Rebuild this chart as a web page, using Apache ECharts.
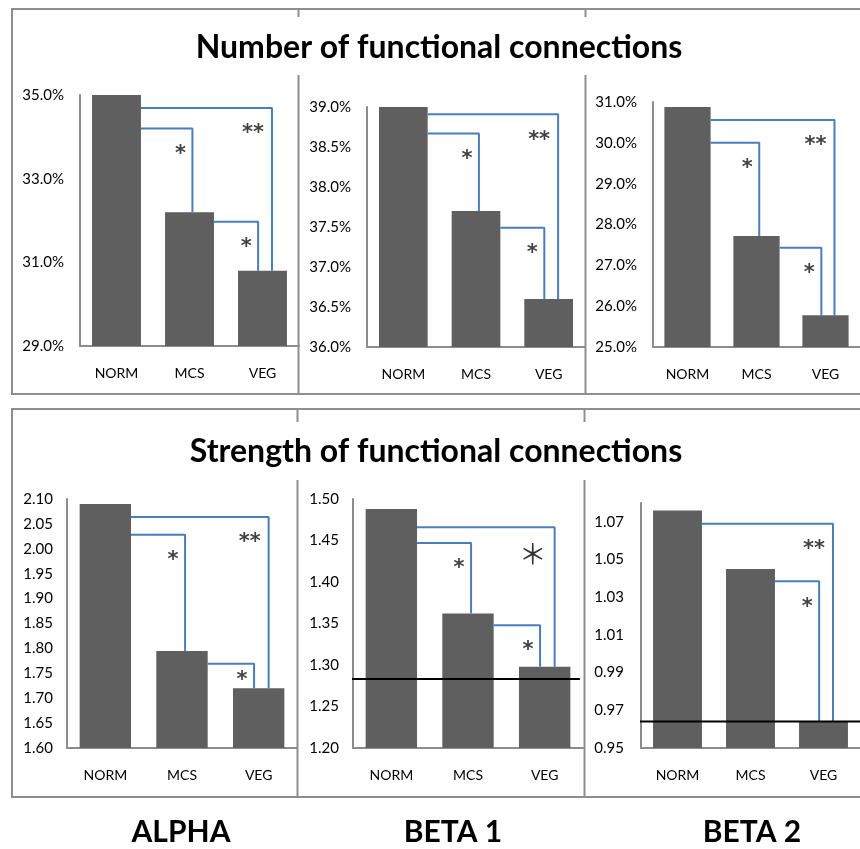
<!DOCTYPE html>
<html><head><meta charset="utf-8">
<script src="https://cdn.jsdelivr.net/npm/echarts@6/dist/echarts.min.js"></script>
<style>html,body{margin:0;padding:0;background:#fff}#c{width:860px;height:849px}</style>
</head><body><div id="c"></div>
<script>
// ---------------- data ----------------
const categories = ['NORM', 'MCS', 'VEG'];
const bandNames = ['ALPHA', 'BETA 1', 'BETA 2'];
const rowTitles = ['Number of functional connections', 'Strength of functional connections'];

// Number of functional connections (%)
const numberAlpha = [35.0, 32.2, 30.8];
const numberBeta1 = [39.02, 37.7, 36.6];
const numberBeta2 = [30.88, 27.72, 25.78];
// Strength of functional connections
const strengthAlpha = [2.09, 1.795, 1.72];
const strengthBeta1 = [1.488, 1.362, 1.298];
const strengthBeta2 = [1.076, 1.045, 0.964];

// axis ranges and tick labels
const numberAlphaRange = [29, 35];
const numberAlphaTicks = [29, 31, 33, 35];
const numberBeta1Range = [36, 39];
const numberBeta1Ticks = [36.0, 36.5, 37.0, 37.5, 38.0, 38.5, 39.0];
const numberBeta2Range = [25, 31];
const numberBeta2Ticks = [25, 26, 27, 28, 29, 30, 31];
const strengthAlphaRange = [1.60, 2.10];
const strengthAlphaTicks = [1.60, 1.65, 1.70, 1.75, 1.80, 1.85, 1.90, 1.95, 2.00, 2.05, 2.10];
const strengthBeta1Range = [1.20, 1.50];
const strengthBeta1Ticks = [1.20, 1.25, 1.30, 1.35, 1.40, 1.45, 1.50];
const strengthBeta2Range = [0.95, 1.08];
const strengthBeta2Ticks = [0.95, 0.97, 0.99, 1.01, 1.03, 1.05, 1.07];

// significance brackets: [from category, to category, bracket level, mark]
const numberAlphaBrackets = [[0, 2, 34.69, '**'], [0, 1, 34.2, '*'], [1, 2, 31.97, '*']];
const numberBeta1Brackets = [[0, 2, 38.91, '**'], [0, 1, 38.67, '*'], [1, 2, 37.49, '*']];
const numberBeta2Brackets = [[0, 2, 30.56, '**'], [0, 1, 30.0, '*'], [1, 2, 27.43, '*']];
const strengthAlphaBrackets = [[0, 2, 2.064, '**'], [0, 1, 2.028, '*'], [1, 2, 1.769, '*']];
const strengthBeta1Brackets = [[0, 2, 1.466, '\uFF0A'], [0, 1, 1.447, '*'], [1, 2, 1.348, '*']];
const strengthBeta2Brackets = [[0, 2, 1.069, '**'], [1, 2, 1.0385, '*']];

// reference lines (black horizontal)
const strengthBeta1Ref = 1.283;
const strengthBeta2Ref = 0.964;

// ---------------- layout & style ----------------
const W = 860, H = 849;
const FONT = 'Lato';
const BAR = '#5f5f5f', BLUE = '#4a7ebb', AXIS = '#8c8c8c', FRAME = '#8e8e8e';

const pct = v => v.toFixed(1) + '%';
const dec = v => v.toFixed(2);

const panels = [
  { values: numberAlpha, range: numberAlphaRange, ticks: numberAlphaTicks, step: 1, fmt: pct, brackets: numberAlphaBrackets, box: [80, 299, 95, 346], lm: 16 },
  { values: numberBeta1, range: numberBeta1Range, ticks: numberBeta1Ticks, step: 0.5, fmt: pct, brackets: numberBeta1Brackets, box: [367, 585, 107, 347], lm: 16 },
  { values: numberBeta2, range: numberBeta2Range, ticks: numberBeta2Ticks, step: 1, fmt: pct, brackets: numberBeta2Brackets, box: [653, 872, 102, 347], lm: 16 },
  { values: strengthAlpha, range: strengthAlphaRange, ticks: strengthAlphaTicks, step: 0.05, fmt: dec, brackets: strengthAlphaBrackets, box: [67, 297, 499, 748], lm: 14 },
  { values: strengthBeta1, range: strengthBeta1Range, ticks: strengthBeta1Ticks, step: 0.05, fmt: dec, brackets: strengthBeta1Brackets, box: [353, 583, 499, 748], lm: 14, ref: strengthBeta1Ref, refSpan: [-0.565, 2.46] },
  { values: strengthBeta2, range: strengthBeta2Range, ticks: strengthBeta2Ticks, step: 0.01, fmt: dec, brackets: strengthBeta2Brackets, box: [641, 869, 503, 748], lm: 17, ref: strengthBeta2Ref, refSpan: [-0.605, 2.7] }
];

const grid = [], xAxis = [], yAxis = [], series = [];
const HALF_BAR = 0.335;

panels.forEach((p, i) => {
  const [l, r, t, b] = p.box;
  grid.push({ left: l, right: W - r, top: t, bottom: H - b, containLabel: false });
  const pxPerUnit = (b - t) / (p.range[1] - p.range[0]);
  xAxis.push({
    type: 'category', gridIndex: i, data: categories,
    axisLine: { onZero: false, lineStyle: { color: AXIS, width: 2 } }, axisTick: { show: false },
    axisLabel: { color: '#000', fontFamily: FONT, fontSize: 14, margin: 20 }
  });
  xAxis.push({ type: 'value', gridIndex: i, min: -0.5, max: 2.5, show: false });
  yAxis.push({
    type: 'value', gridIndex: i, min: p.range[0], max: p.range[1], interval: p.step,
    splitLine: { show: false }, axisTick: { show: false },
    axisLine: { show: true, onZero: false, lineStyle: { color: AXIS, width: 2 } },
    axisLabel: {
      color: '#000', fontFamily: FONT, fontSize: 15, margin: p.lm,
      formatter: v => p.ticks.some(tk => Math.abs(tk - v) < 1e-6) ? p.fmt(v) : ''
    }
  });
  series.push({
    type: 'bar', xAxisIndex: 2 * i, yAxisIndex: i, data: p.values,
    barCategoryGap: '33%', itemStyle: { color: BAR }, silent: true
  });
  // brackets
  const stars = [];
  p.brackets.forEach(([from, to, level, mark]) => {
    const long = (to - from) > 1;
    const vx = to + (long ? 0.13 : (to === 1 ? 0.04 : -0.06));
    series.push({
      type: 'line', xAxisIndex: 2 * i + 1, yAxisIndex: i, symbol: 'none', silent: true,
      lineStyle: { color: BLUE, width: 2 }, z: 3,
      data: [[from + HALF_BAR, level], [vx, level], [vx, p.values[to]]]
    });
    const gapPx = (level - p.values[to]) * pxPerUnit;
    const dy = Math.min(21, gapPx / 2);
    const big = mark === '\uFF0A';
    const dx = mark === '**' ? -19 : (big ? -22 : -12);
    stars.push({
      value: [vx, level],
      label: big ? {
        show: true, position: 'inside', formatter: mark, offset: [dx, dy + 6],
        fontFamily: 'Noto Sans CJK SC', fontSize: 28, color: '#000'
      } : {
        show: true, position: 'inside', formatter: mark, offset: [dx, dy + 5],
        fontFamily: 'DejaVu Sans', fontWeight: 'bold', fontSize: 21, color: '#111'
      }
    });
  });
  series.push({
    type: 'scatter', xAxisIndex: 2 * i + 1, yAxisIndex: i, symbolSize: 1, silent: true,
    itemStyle: { color: 'rgba(0,0,0,0)' }, z: 4, data: stars
  });
  if (p.ref !== undefined) {
    series.push({
      type: 'line', xAxisIndex: 2 * i + 1, yAxisIndex: i, symbol: 'none', silent: true, clip: false,
      lineStyle: { color: '#000', width: 2 }, z: 5,
      data: [[p.refSpan[0], p.ref], [p.refSpan[1], p.ref]]
    });
  }
});

// frames, separators, titles
const graphic = [];
const frames = [[9, 394, 17, 75], [409, 797, 422, 480]];
const seps = [[298.5, 585.5], [297.5, 584.5]];
frames.forEach(([top, bot, g1, g2], k) => {
  graphic.push({ type: 'rect', shape: { x: 12, y: top, width: 880, height: bot - top }, style: { fill: 'none', stroke: FRAME, lineWidth: 2 }, silent: true });
  seps[k].forEach(x => {
    graphic.push({ type: 'line', shape: { x1: x, y1: top, x2: x, y2: g1 }, style: { stroke: FRAME, lineWidth: 2 }, silent: true });
    graphic.push({ type: 'line', shape: { x1: x, y1: g2, x2: x, y2: bot }, style: { stroke: FRAME, lineWidth: 2 }, silent: true });
  });
});
const titleY = [48, 452], titleX = [439, 436];
rowTitles.forEach((t, k) => {
  graphic.push({ type: 'text', x: titleX[k], y: titleY[k], silent: true,
    style: { text: t, fontFamily: FONT, fontWeight: 'bold', fontSize: 32, fill: '#000', textAlign: 'center', textVerticalAlign: 'middle' } });
});
const bandX = [181, 453, 752];
bandNames.forEach((t, k) => {
  graphic.push({ type: 'text', x: bandX[k], y: 832, silent: true,
    style: { text: t, fontFamily: FONT, fontWeight: 'bold', fontSize: 30, fill: '#000', textAlign: 'center', textVerticalAlign: 'middle' } });
});

const chart = echarts.init(document.getElementById('c'));
chart.setOption({ animation: false, backgroundColor: '#fff', grid, xAxis, yAxis, series, graphic });
</script>
</body></html>
